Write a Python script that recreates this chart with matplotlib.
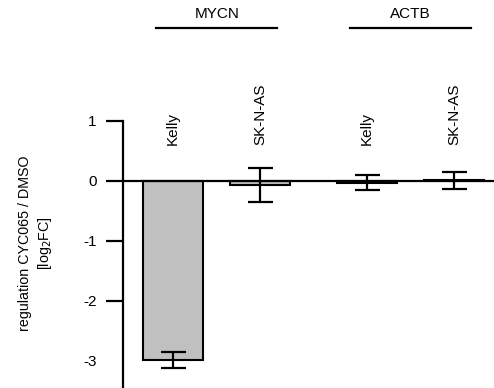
import numpy as np
import matplotlib
matplotlib.use('Agg')
import matplotlib.pyplot as plt

plt.rcParams['font.family'] = ['Liberation Sans', 'DejaVu Sans']

# data
cell_lines = ['Kelly', 'SK-N-AS', 'Kelly', 'SK-N-AS']
genes = ['MYCN', 'ACTB']
log2fc = [-2.98, -0.07, -0.025, 0.015]
errors = [0.13, 0.28, 0.125, 0.14]
positions = [0.0, 1.0, 2.23, 3.23]
yticks = [1, 0, -1, -2, -3]

fig = plt.figure(figsize=(4.94, 3.88), dpi=100)
ax = fig.add_axes([123 / 494, 0.0, 371 / 494, (388 - 121) / 388])

ax.bar(positions, log2fc, width=0.69, color='#c0c0c0', edgecolor='black',
       linewidth=1.5, zorder=2)
ax.errorbar(positions, log2fc, yerr=errors, fmt='none', ecolor='black',
            elinewidth=1.6, capsize=9, capthick=1.6, zorder=3)
ax.axhline(0, color='black', linewidth=1.6, zorder=4)

ax.set_xlim(-0.575, 3.69)
ax.set_ylim(-3.45, 1)
ax.set_xticks([])
ax.set_yticks(yticks)
ax.set_yticklabels([str(t) for t in yticks], fontsize=11)
ax.tick_params(axis='y', length=12, width=1.6, pad=7)
ax.yaxis.get_major_ticks()[-1].tick1line.set_visible(False)

for s in ['top', 'right', 'bottom']:
    ax.spines[s].set_visible(False)
ax.spines['left'].set_linewidth(1.6)

# cell line labels
for x, name in zip(positions, cell_lines):
    ax.text(x, 0.6, name, rotation=90, ha='center', va='bottom',
            fontsize=11, clip_on=False)

# gene group headers
for g, gene in enumerate(genes):
    x0 = positions[2 * g] - 0.195
    x1 = positions[2 * g + 1] + 0.2
    ax.plot([x0, x1], [2.55, 2.55], color='black', linewidth=1.6,
            clip_on=False)
    ax.text((x0 + x1) / 2, 2.78, gene, ha='center', va='center',
            fontsize=11, clip_on=False)

fig.text(36 / 494, 1 - 243 / 388, 'regulation CYC065 / DMSO\n[log$_2$FC]',
         rotation=90, ha='center', va='center', multialignment='center',
         fontsize=10.3, linespacing=1.25)

fig.savefig('out.png', dpi=100, facecolor='white')
